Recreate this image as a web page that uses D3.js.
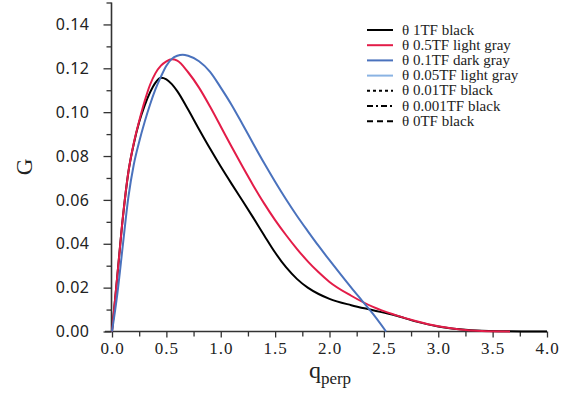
<!DOCTYPE html>
<html>
<head>
<meta charset="utf-8">
<script src="https://cdn.jsdelivr.net/npm/d3@7"></script>
<style>
  body { margin: 0; background: #fff; }
  .axis path, .axis line { stroke: #333; }
  .ylab text { font-family: "Noto Sans", sans-serif; font-size: 16px; fill: #222; letter-spacing: 0.5px; }
  .xlab text { font-family: "Liberation Serif", serif; font-size: 17px; fill: #222; letter-spacing: 1px; }
</style>
</head>
<body>
<svg id="chart" width="577" height="401"></svg>
<script>
// q_perp sample points and G values
const q_black = [0, 0.05, 0.1, 0.15, 0.2, 0.25, 0.3, 0.35, 0.4, 0.45, 0.5, 0.55, 0.6, 0.7, 0.8, 0.9, 1.0, 1.1, 1.2, 1.3, 1.4, 1.5, 1.6, 1.7, 1.8, 1.9, 2.0, 2.2, 2.4, 2.6, 2.8, 3.0, 3.2, 3.4, 3.6, 3.8, 4.0];
const g_black = [0, 0.026, 0.052, 0.0725, 0.0855, 0.0955, 0.1030, 0.1090, 0.1135, 0.1157, 0.1150, 0.1128, 0.1096, 0.1012, 0.0922, 0.0835, 0.0752, 0.0673, 0.0596, 0.0518, 0.0438, 0.0360, 0.0293, 0.0240, 0.0200, 0.0171, 0.0149, 0.0120, 0.0097, 0.0074, 0.0045, 0.0023, 0.0010, 0.0003, 0.0001, 0, 0];

const q_red = [0, 0.05, 0.1, 0.15, 0.2, 0.25, 0.3, 0.35, 0.4, 0.45, 0.5, 0.55, 0.6, 0.7, 0.8, 0.9, 1.0, 1.1, 1.2, 1.3, 1.4, 1.5, 1.6, 1.7, 1.8, 1.9, 2.0, 2.2, 2.4, 2.6, 2.8, 3.0, 3.2, 3.4, 3.66];
const g_red = [0, 0.026, 0.052, 0.0725, 0.0858, 0.0960, 0.1050, 0.1125, 0.1178, 0.1212, 0.1232, 0.1241, 0.1235, 0.1182, 0.1112, 0.1027, 0.0935, 0.0842, 0.0752, 0.0665, 0.0583, 0.0508, 0.0440, 0.0377, 0.0320, 0.0270, 0.0226, 0.0163, 0.0112, 0.0076, 0.0047, 0.0024, 0.0009, 0.0002, 0];

const q_blue = [0, 0.05, 0.1, 0.15, 0.2, 0.25, 0.3, 0.35, 0.4, 0.45, 0.5, 0.55, 0.6, 0.65, 0.7, 0.8, 0.9, 1.0, 1.1, 1.2, 1.3, 1.4, 1.5, 1.6, 1.7, 1.8, 1.9, 2.0, 2.1, 2.2, 2.3, 2.4, 2.52];
const g_blue = [0, 0.0175, 0.0395, 0.0610, 0.0760, 0.0865, 0.0955, 0.1035, 0.1105, 0.1162, 0.1212, 0.1243, 0.1257, 0.1262, 0.1257, 0.1232, 0.1185, 0.1112, 0.1033, 0.0945, 0.0855, 0.0767, 0.0683, 0.0603, 0.0528, 0.0458, 0.0390, 0.0325, 0.0262, 0.0200, 0.0140, 0.0080, 0];

const legend_labels = ["\u03b8 1TF black", "\u03b8 0.5TF light gray", "\u03b8 0.1TF dark gray", "\u03b8 0.05TF light gray", "\u03b8 0.01TF black", "\u03b8 0.001TF black", "\u03b8 0TF black"];
const legend_colors = ["#000000", "#e31c48", "#4a72bd", "#8ab3e3", "#000000", "#000000", "#000000"];
const legend_dash = [null, null, null, null, "3,3", "6,3,2,3", "6,4"];

const x_ticks = [0, 0.5, 1.0, 1.5, 2.0, 2.5, 3.0, 3.5, 4.0];
const x_minor = [0.25, 0.75, 1.25, 1.75, 2.25, 2.75, 3.25, 3.75];
const y_ticks = [0, 0.02, 0.04, 0.06, 0.08, 0.10, 0.12, 0.14];
const y_minor = [0.01, 0.03, 0.05, 0.07, 0.09, 0.11, 0.13, 0.15];

const svg = d3.select('#chart');

const x = d3.scaleLinear().domain([0, 4]).range([112, 547]);
const y = d3.scaleLinear().domain([0, 0.15]).range([331.5, 2.5]);

// axes
svg.append('g')
  .attr('class', 'axis')
  .attr('transform', 'translate(0,331.5)')
  .call(d3.axisBottom(x).tickValues(x_minor).tickSize(5).tickFormat(''))
  .call(g => g.select('.domain').remove())
  .selectAll('line').attr('stroke-width', 1.3);

svg.append('g')
  .attr('class', 'axis xlab')
  .attr('transform', 'translate(0,331.5)')
  .call(d3.axisBottom(x).tickValues(x_ticks).tickSize(6).tickSizeOuter(0).tickPadding(4).tickFormat(d3.format('.1f')))
  .call(g => g.select('.domain').attr('stroke-width', 1.6).attr('d', 'M105,0H547'))
  .selectAll('line').attr('stroke-width', 1.3);

svg.append('g')
  .attr('class', 'axis')
  .attr('transform', 'translate(111.5,0)')
  .call(d3.axisLeft(y).tickValues(y_minor).tickSize(5).tickFormat(''))
  .call(g => g.select('.domain').remove())
  .selectAll('line').attr('stroke-width', 1.3);

svg.append('g')
  .attr('class', 'axis ylab')
  .attr('transform', 'translate(111.5,0)')
  .call(d3.axisLeft(y).tickValues(y_ticks).tickSize(8).tickSizeOuter(0).tickPadding(14).tickFormat(d3.format('.2f')))
  .call(g => g.select('.domain').attr('stroke-width', 1.6).attr('d', 'M0,2.5V331.5'))
  .selectAll('line').attr('stroke-width', 1.3);

// axis titles
svg.append('text')
  .attr('transform', 'translate(32,167) rotate(-90)')
  .attr('text-anchor', 'middle')
  .style('font-family', '"Liberation Serif", serif')
  .style('font-size', '23px')
  .attr('fill', '#222')
  .text('G');

const xt = svg.append('text')
  .attr('x', 330)
  .attr('y', 378)
  .attr('text-anchor', 'middle')
  .style('font-family', '"Liberation Serif", serif')
  .style('font-size', '24px')
  .attr('fill', '#222');
xt.append('tspan').text('q');
xt.append('tspan').attr('dy', 6).style('font-size', '17px').text('perp');

// curves
const line = d3.line().x(d => x(d[0])).y(d => y(d[1])).curve(d3.curveMonotoneX);

const series = [
  { q: q_black, g: g_black, color: legend_colors[0] },
  { q: q_red, g: g_red, color: legend_colors[1] },
  { q: q_blue, g: g_blue, color: legend_colors[2] }
];

series.forEach(s => {
  svg.append('path')
    .datum(d3.zip(s.q, s.g))
    .attr('fill', 'none')
    .attr('stroke', s.color)
    .attr('stroke-width', 2)
    .attr('d', line);
});

// legend
const leg = svg.append('g');
legend_labels.forEach((lab, i) => {
  const ly = 30 + i * 15.2;
  leg.append('line')
    .attr('x1', 367).attr('x2', 393)
    .attr('y1', ly).attr('y2', ly)
    .attr('stroke', legend_colors[i])
    .attr('stroke-width', 2)
    .attr('stroke-dasharray', legend_dash[i]);
  leg.append('text')
    .attr('x', 402)
    .attr('y', ly + 4.5)
    .style('font-family', '"Liberation Serif", serif')
    .style('font-size', '15px')
    .attr('fill', '#222')
    .text(lab);
});
</script>
</body>
</html>
